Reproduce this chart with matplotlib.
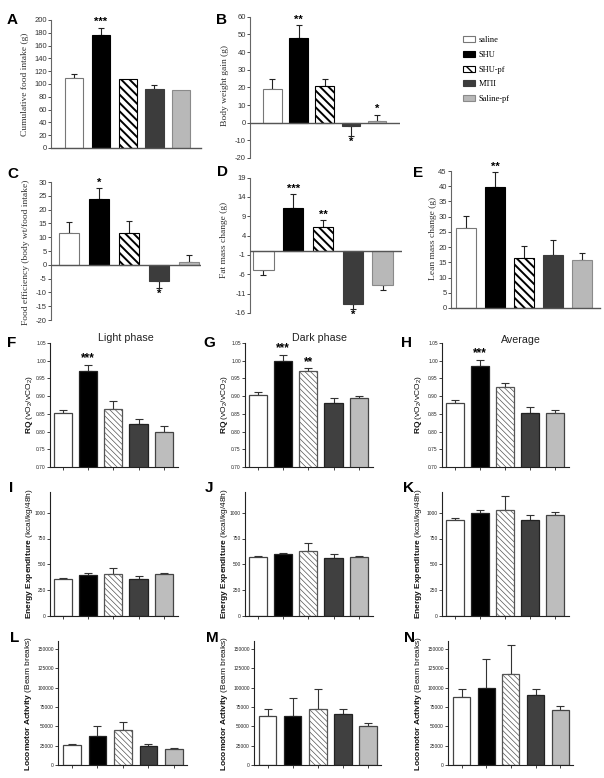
import numpy as np
import matplotlib
matplotlib.use('Agg')
import matplotlib.pyplot as plt
from matplotlib.patches import Patch

plt.rcParams['font.family'] = 'Liberation Sans'
plt.rcParams['mathtext.fontset'] = 'custom'
plt.rcParams['mathtext.rm'] = 'Liberation Sans'
plt.rcParams['mathtext.bf'] = 'Liberation Sans:bold'
plt.rcParams['mathtext.it'] = 'Liberation Sans:italic'
plt.rcParams['axes.unicode_minus'] = False

groups = ['saline', 'SHU', 'SHU-pf', 'MTII', 'Saline-pf']

# A-E (body weight / food data)
food_intake = [109, 177, 108, 92.5, 91]
food_intake_err = [7, 11, 0, 6.5, 0]
food_intake_stars = ['', '***', '', '', '']

weight_gain = [19.2, 48.2, 20.5, -2.1, 1.1]
weight_gain_err = [5.3, 7.2, 4.2, 5.6, 3.4]
weight_gain_stars = ['', '**', '', '*', '*']

food_eff = [11.4, 23.8, 11.7, -6.0, 1.1]
food_eff_err = [4.2, 4.0, 4.0, 2.5, 2.4]
food_eff_stars = ['', '*', '', '*', '']

fat_mass = [-4.9, 11.1, 6.2, -13.8, -8.8]
fat_mass_err = [1.3, 3.6, 1.8, 1.2, 1.3]
fat_mass_stars = ['', '***', '**', '*', '']

lean_mass = [26.2, 39.9, 16.5, 17.5, 15.7]
lean_mass_err = [4.0, 4.7, 3.8, 4.9, 2.5]
lean_mass_stars = ['', '**', '', '', '']

# F-H respiratory quotient
rq_light = [0.852, 0.972, 0.864, 0.821, 0.800]
rq_light_err = [0.009, 0.016, 0.023, 0.015, 0.015]
rq_dark = [0.902, 0.998, 0.970, 0.881, 0.895]
rq_dark_err = [0.010, 0.018, 0.009, 0.014, 0.005]
rq_avg = [0.880, 0.986, 0.925, 0.853, 0.853]
rq_avg_err = [0.010, 0.016, 0.011, 0.016, 0.008]

# I-K energy expenditure
ee_light = [362, 397, 407, 361, 410]
ee_light_err = [10, 16, 54, 26, 9]
ee_dark = [567, 602, 625, 564, 567]
ee_dark_err = [16, 10, 77, 32, 16]
ee_avg = [933, 1000, 1029, 929, 981]
ee_avg_err = [19, 29, 134, 52, 29]

# L-N locomotor activity
loco_light = [25200, 36800, 45800, 24000, 20500]
loco_light_err = [2200, 13700, 9800, 2500, 1300]
loco_dark = [63300, 63300, 72300, 66300, 50900]
loco_dark_err = [8500, 23100, 26400, 6000, 3800]
loco_avg = [88100, 99600, 118000, 90300, 71400]
loco_avg_err = [10600, 37600, 36700, 7600, 4800]

W, H = 604, 778
fig = plt.figure(figsize=(W / 100, H / 100), dpi=100)


def box(x0, y0, x1, y1):
    return [x0 / W, 1 - y1 / H, (x1 - x0) / W, (y1 - y0) / H]


def fx(x, y):
    return x / W, 1 - y / H


def draw_bars(ax, vals, errs, stars, width, faces, edges, hatches, hlw,
              lw, ecol, star_size, capsize):
    x = np.arange(len(vals))
    vals = np.array(vals, dtype=float)
    errs = np.array(errs, dtype=float)
    bars = ax.bar(x, vals, width, color=faces, edgecolor=edges, linewidth=lw,
                  zorder=2)
    for b, h in zip(bars, hatches):
        if h:
            b.set_hatch(h)
            if hasattr(b, 'set_hatch_linewidth'):
                b.set_hatch_linewidth(hlw)
    up = np.where(vals >= 0, errs, 0)
    lo = np.where(vals < 0, errs, 0)
    m = errs > 0
    ax.errorbar(x[m], vals[m], yerr=[lo[m], up[m]], fmt='none', ecolor=ecol,
                elinewidth=0.8, capsize=capsize, capthick=0.8, zorder=1)
    for i, s in enumerate(stars):
        if not s:
            continue
        if vals[i] >= 0:
            ax.annotate(s, (x[i], vals[i] + up[i]), xytext=(0, 0.3),
                        textcoords='offset points', ha='center', va='bottom',
                        fontsize=star_size, fontweight='bold')
        else:
            ax.annotate(s, (x[i], vals[i] - lo[i]), xytext=(0, -0.3),
                        textcoords='offset points', ha='center', va='top',
                        fontsize=star_size, fontweight='bold')


top_faces = ['white', 'black', 'white', '#3c3c3c', '#b8b8b8']
top_edges = ['#777777', 'black', 'black', '#3c3c3c', '#8a8a8a']
top_hatch = ['', '', '\\\\\\\\', '', '']


def top_panel(rect, vals, errs, stars, ylim, yticks, xlim, width, ylabel,
              ylab_xy, letter, letter_xy, spine_bottom):
    ax = fig.add_axes(box(*rect))
    draw_bars(ax, vals, errs, stars, width, top_faces, top_edges, top_hatch,
              1.4, 0.8, '#222222', 8, 2.4)
    ax.set_xlim(*xlim)
    ax.set_ylim(*ylim)
    ax.set_yticks(yticks)
    ax.set_xticks([])
    for s in ['top', 'right']:
        ax.spines[s].set_visible(False)
    ax.spines['left'].set_color('#666666')
    ax.spines['left'].set_linewidth(0.8)
    if spine_bottom:
        ax.spines['bottom'].set_color('#555555')
        ax.spines['bottom'].set_linewidth(1.0)
    else:
        ax.spines['bottom'].set_visible(False)
        ax.axhline(0, color='#555555', lw=1.0, zorder=3)
    ax.tick_params(axis='y', length=2, width=0.6, pad=1, labelsize=5.5,
                   colors='#333333')
    ax.patch.set_alpha(0)
    tx, ty = fx(*ylab_xy)
    fig.text(tx, ty, ylabel, rotation=90, ha='center', va='center',
             fontsize=6.8, family='Liberation Serif', color='#333333')
    lx, ly = fx(*letter_xy)
    fig.text(lx, ly, letter, ha='left', va='center', fontsize=11,
             fontweight='bold')
    return ax


top_panel((51, 20, 201, 148), food_intake, food_intake_err, food_intake_stars,
          (0, 200), range(0, 201, 20), (-0.87, 4.74), 0.69,
          'Cumulative food intake (g)', (25, 84), 'A', (7, 20), True)
top_panel((250, 16.7, 400, 158), weight_gain, weight_gain_err, weight_gain_stars,
          (-20, 60), range(-20, 61, 10), (-0.86, 4.88), 0.71,
          'Body weight gain (g)', (225, 85), 'B', (216, 20), False)
top_panel((51, 182, 201, 320), food_eff, food_eff_err, food_eff_stars,
          (-20, 30), range(-20, 31, 5), (-0.59, 4.4), 0.67,
          'Food efficiency (body wt/food intake)', (26, 252), 'C', (7, 174),
          False)
top_panel((250, 177.5, 402, 313), fat_mass, fat_mass_err, fat_mass_stars,
          (-16, 19), range(-16, 20, 5), (-0.45, 4.65), 0.68,
          'Fat mass change (g)', (224, 240), 'D', (217, 172), False)
top_panel((451, 171, 600, 308), lean_mass, lean_mass_err, lean_mass_stars,
          (0, 45), range(0, 46, 5), (-0.52, 4.61), 0.69,
          'Lean mass change (g)', (433, 238), 'E', (413, 173), True)

handles = [Patch(facecolor=f, edgecolor=e, hatch=h, linewidth=0.8)
           for f, e, h in zip(top_faces, top_edges, ['', '', '\\\\\\', '', ''])]
fig.legend(handles, groups, loc='upper left', bbox_to_anchor=fx(459, 32),
           frameon=False, borderpad=0, handlelength=1.45, handleheight=0.7,
           handletextpad=0.4, labelspacing=0.8,
           prop={'family': 'Liberation Serif', 'size': 6})

bot_faces = ['white', 'black', 'white', '#404040', '#bdbdbd']
bot_edges = ['#444444', '#222222', '#555555', '#222222', '#444444']
bot_hatch = ['', '', '\\\\\\\\\\\\', '', '']


def bottom_panel(rect, vals, errs, stars, ylim, yticks, fmt, ylabel, ylab_x,
                 letter, letter_xy, width, xlim):
    ax = fig.add_axes(box(*rect))
    draw_bars(ax, vals, errs, stars, width, bot_faces, bot_edges, bot_hatch,
              0.5, 0.9, '#333333', 8.5, 2.9)
    ax.set_xlim(*xlim)
    ax.set_ylim(*ylim)
    ax.set_yticks(yticks)
    ax.set_yticklabels([fmt % t for t in yticks])
    ax.set_xticks(range(5))
    ax.set_xticklabels([])
    for s in ['top', 'right']:
        ax.spines[s].set_visible(False)
    for s in ['left', 'bottom']:
        ax.spines[s].set_color('#222222')
        ax.spines[s].set_linewidth(0.8)
    ax.tick_params(length=2, width=0.6, pad=1, labelsize=3.5,
                   colors='#222222')
    ax.patch.set_alpha(0)
    tx, ty = fx(ylab_x, (rect[1] + rect[3]) / 2)
    fig.text(tx, ty, ylabel, rotation=90, ha='center', va='center',
             fontsize=6, color='#111111')
    lx, ly = fx(*letter_xy)
    fig.text(lx, ly, letter, ha='left', va='center', fontsize=11,
             fontweight='bold')
    return ax


rq_label = r'$\mathbf{RQ}$ (vO$_2$/vCO$_2$)'
ee_label = r'$\mathbf{Energy\ Expenditure}$ (kcal/kg/48h)'
loco_label = r'$\mathbf{Locomotor\ Activity}$ (Beam breaks)'
rq_ticks = [0.70, 0.75, 0.80, 0.85, 0.90, 0.95, 1.00, 1.05]
ee_ticks = [0, 250, 500, 750, 1000]
loco_ticks = list(range(0, 150001, 25000))

cols_x = [(50, 178), (245, 373), (442, 569)]
lab_x = [29.5, 224, 419]
let_x = [7, 203, 401]

rq_sets = [(rq_light, rq_light_err, ['', '***', '', '', '']),
           (rq_dark, rq_dark_err, ['', '***', '**', '', '']),
           (rq_avg, rq_avg_err, ['', '***', '', '', ''])]
for k, (v, e, st) in enumerate(rq_sets):
    x0, x1 = cols_x[k]
    bottom_panel((x0, 343, x1, 467), v, e, st, (0.70, 1.05), rq_ticks, '%.2f',
                 rq_label, lab_x[k], 'FGH'[k], (let_x[k], 343), 0.72,
                 (-0.5, 4.56))

ee_sets = [(ee_light, ee_light_err), (ee_dark, ee_dark_err),
           (ee_avg, ee_avg_err)]
for k, (v, e) in enumerate(ee_sets):
    x0, x1 = cols_x[k]
    bottom_panel((x0, 492, x1, 616), v, e, [''] * 5, (0, 1200), ee_ticks, '%d',
                 ee_label, lab_x[k], 'IJK'[k], (let_x[k] + 2, 488), 0.72,
                 (-0.5, 4.56))

loco_x = [(58, 187), (254, 381), (448, 573)]
loco_lab_x = [29, 225, 419]
loco_sets = [(loco_light, loco_light_err), (loco_dark, loco_dark_err),
             (loco_avg, loco_avg_err)]
for k, (v, e) in enumerate(loco_sets):
    x0, x1 = loco_x[k]
    bottom_panel((x0, 641, x1, 765), v, e, [''] * 5, (0, 160000), loco_ticks,
                 '%d', loco_label, loco_lab_x[k], 'LMN'[k],
                 (let_x[k] + 3, 638), 0.69, (-0.55, 4.52))

for txt, (x, y) in [('Light phase', (126, 338)), ('Dark phase', (320, 338)),
                    ('Average', (521, 340))]:
    tx, ty = fx(x, y)
    fig.text(tx, ty, txt, ha='center', va='center', fontsize=7.7,
             color='#222222')

fig.savefig('out.png', dpi=100)
